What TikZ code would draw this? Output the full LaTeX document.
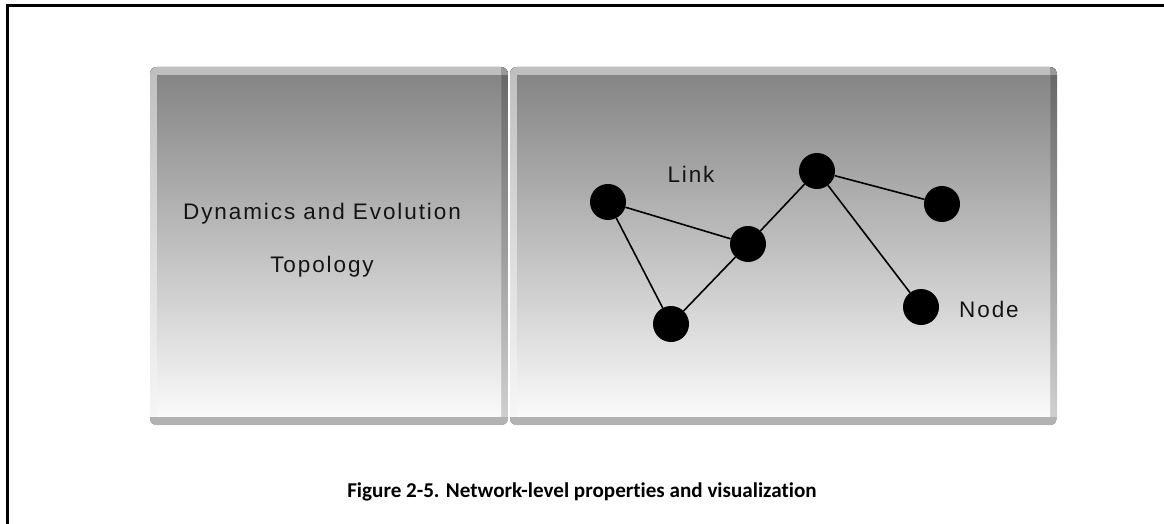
\documentclass[tikz,border=0pt]{standalone}
\usepackage{fontspec}
\setmainfont{Liberation Sans}
\newfontfamily\labelfont[LetterSpace=8.5]{Liberation Sans}
\newfontfamily\capfont[Ligatures=NoCommon]{Carlito}
\begin{document}
\begin{tikzpicture}[x=1pt,y=-1pt,
  netnode/.style={circle,fill=black,draw=none,minimum size=36pt,inner sep=0pt},
  link/.style={draw=black,line width=1.6pt},
  paneltext/.style={anchor=base,inner sep=0pt,font=\labelfont\fontsize{22.5}{27}\selectfont,text=black!92},
  frameline/.style={draw=black,line width=3pt}]

\useasboundingbox (0,0) rectangle (1164,524);

% outer frame (top and left edges)
\draw[frameline] (1164,6) -- (7,6) -- (7,524);

% bevelled panel: #1 left, #2 top, #3 right, #4 bottom
\newcommand{\bevelpanel}[4]{%
  \begin{scope}
    \clip[rounded corners=7pt] (#1,#2) rectangle (#3,#4);
    % dark right edge
    \fill[top color=black!60,bottom color=black!18] (#1,#2) rectangle (#3,#4);
    % light left edge
    \fill[top color=black!25,bottom color=black!3] (#1,#2) rectangle (#3-7,#4);
    % main face
    \fill[top color=black!48,bottom color=black!2] (#1+7,#2+8) rectangle (#3-7,#4-8);
    % top bevel
    \fill[black!25] (#1,#2) rectangle (#3-7,#2+8);
    \fill[black!40] (#3-7,#2) rectangle (#3,#2+8);
    % bottom bevel
    \fill[black!30] (#1,#4-8) rectangle (#3,#4);
  \end{scope}}

\bevelpanel{150}{67}{508}{425}
\bevelpanel{510}{67}{1057}{425}

% left panel texts
\node[paneltext] (dyn) at (322,219) {Dynamics and Evolution};
\node[paneltext] (topo) at (322,272) {Topology};

% network
\node[netnode] (a) at (608,202) {};
\node[netnode] (b) at (748,244) {};
\node[netnode] (c) at (671,324) {};
\node[netnode] (d) at (817,171) {};
\node[netnode] (e) at (942,204) {};
\node[netnode] (f) at (921,307) {};

\draw[link] (a) -- (b);
\draw[link] (a) -- (c);
\draw[link] (c) -- (b);
\draw[link] (b) -- (d);
\draw[link] (d) -- (e);
\draw[link] (d) -- (f);

\node[paneltext] (linklbl) at (691,182) {Link};
\node[paneltext] (nodelbl) at (989,317) {Node};

% caption
\node[anchor=base,inner sep=0pt,font=\capfont\bfseries\fontsize{21.1}{25}\selectfont] (cap) at (582,497)
  {Figure 2-5. Network-level properties and visualization};
\end{tikzpicture}
\end{document}
